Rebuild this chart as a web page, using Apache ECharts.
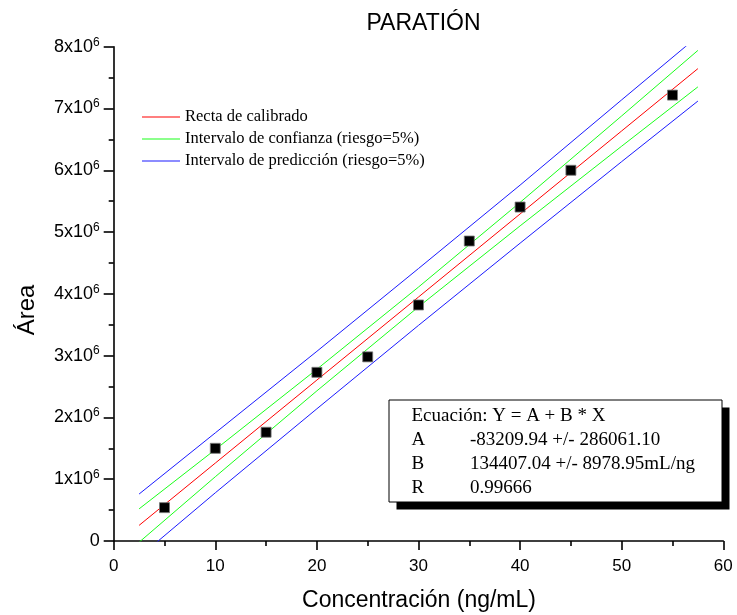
<!DOCTYPE html>
<html>
<head>
<meta charset="utf-8">
<script src="https://cdn.jsdelivr.net/npm/echarts@6/dist/echarts.min.js"></script>
<style>html,body{margin:0;padding:0;background:#fff;}#c{width:737px;height:615px;}</style>
</head>
<body>
<div id="c"></div>
<script>
// Data points (concentration ng/mL, area)
const concentrations = [5, 10, 15, 20, 25, 30, 35, 40, 45, 55];
const areas = [0.54e6, 1.50e6, 1.76e6, 2.73e6, 2.98e6, 3.82e6, 4.855e6, 5.405e6, 6.0e6, 7.217e6];

// Lines
const lineX = [2.5, 10, 20, 30, 40, 50, 57.5];
const fitLine = [0.253e6, 1.261e6, 2.605e6, 3.949e6, 5.293e6, 6.637e6, 7.645e6];
const confUpper = [0.52e6, 1.48e6, 2.78e6, 4.11e6, 5.48e6, 6.88e6, 7.94e6];
const confLower = [-0.02e6, 1.04e6, 2.43e6, 3.79e6, 5.10e6, 6.39e6, 7.35e6];
const predUpper = [0.76e6, 1.75e6, 3.07e6, 4.41e6, 5.76e6, 7.14e6, 8.17e6];
const predLower = [-0.26e6, 0.78e6, 2.14e6, 3.49e6, 4.82e6, 6.14e6, 7.12e6];

const legendNames = ['Recta de calibrado', 'Intervalo de confianza (riesgo=5%)', 'Intervalo de predicción (riesgo=5%)'];
const titleText = 'PARATIÓN';
const xName = 'Concentración (ng/mL)';
const yName = 'Área';
const boxLines = [
  ['Ecuación: Y = A + B * X', ''],
  ['A', '-83209.94 +/- 286061.10'],
  ['B', '134407.04 +/- 8978.95mL/ng'],
  ['R', '0.99666']
];

const pairs = (xs, ys) => xs.map((x, i) => [x, ys[i]]);
const sans = 'Liberation Sans, Arial, sans-serif';
const serif = 'Liberation Serif, Times New Roman, serif';

function lineSeries(name, ys, color) {
  return {
    name: name, type: 'line', data: pairs(lineX, ys), symbol: 'none', clip: true,
    lineStyle: {color: color, width: 1}, itemStyle: {color: color}, z: 2, silent: true
  };
}

const chart = echarts.init(document.getElementById('c'), null, {renderer: 'canvas'});

const boxX = 389, boxY = 400, boxW = 333, boxH = 102;
const boxChildren = [
  {type: 'rect', shape: {x: boxX + 7.5, y: boxY + 7.5, width: boxW, height: boxH}, style: {fill: '#000'}},
  {type: 'rect', shape: {x: boxX, y: boxY, width: boxW, height: boxH}, style: {fill: '#fff', stroke: '#000', lineWidth: 1}}
];
const lineYs = [416, 440, 464, 488];
boxLines.forEach((l, i) => {
  boxChildren.push({type: 'text', x: 411.5, y: lineYs[i], style: {text: l[0], font: '19px ' + serif, fill: '#000', verticalAlign: 'middle'}});
  if (l[1]) boxChildren.push({type: 'text', x: 470, y: lineYs[i], style: {text: l[1], font: '19px ' + serif, fill: '#000', verticalAlign: 'middle'}});
});

const option = {
  animation: false,
  backgroundColor: '#fff',
  grid: {left: 113.7, right: 13.7, top: 46.7, bottom: 74, containLabel: false},
  legend: {
    orient: 'vertical', left: 142, top: 108.5, padding: 0, itemWidth: 38, itemHeight: 1.2, itemGap: 5,
    icon: 'rect',
    data: legendNames,
    textStyle: {fontFamily: serif, fontSize: 16.5, color: '#000', lineHeight: 16.5},
    selectedMode: false
  },
  xAxis: {
    type: 'value', min: 0, max: 60, interval: 10,
    axisLine: {show: true, lineStyle: {color: '#000', width: 1.6}},
    axisTick: {show: true, inside: false, length: 9, lineStyle: {color: '#000', width: 1.6}},
    minorTick: {show: true, splitNumber: 2, length: 5, lineStyle: {color: '#000', width: 1.6}},
    axisLabel: {fontFamily: sans, fontSize: 17, color: '#000', margin: 17},
    splitLine: {show: false}
  },
  yAxis: {
    type: 'value', min: 0, max: 8e6, interval: 1e6,
    axisLine: {show: true, lineStyle: {color: '#000', width: 1.6}},
    axisTick: {show: true, inside: false, length: 10, lineStyle: {color: '#000', width: 1.6}},
    minorTick: {show: true, splitNumber: 2, length: 5, lineStyle: {color: '#000', width: 1.6}},
    axisLabel: {
      margin: 14,
      formatter: v => v === 0 ? '{a|0}' : '{a|' + (v / 1e6) + 'x10}{s|6}',
      rich: {
        a: {fontFamily: sans, fontSize: 18, color: '#000'},
        s: {fontFamily: sans, fontSize: 12, color: '#000', verticalAlign: 'top', padding: [0, 0, 9, 0]}
      }
    },
    splitLine: {show: false}
  },
  graphic: [
    {type: 'text', x: 423.5, y: 24, style: {text: titleText, font: '23px ' + sans, fill: '#000', align: 'center', verticalAlign: 'middle'}},
    {type: 'text', x: 419, y: 601, style: {text: xName, font: '23px ' + sans, fill: '#000', align: 'center', verticalAlign: 'middle'}},
    {type: 'text', x: 27, y: 310, rotation: Math.PI / 2, style: {text: yName, font: '24px ' + sans, fill: '#000', align: 'center', verticalAlign: 'middle'}},
    {type: 'group', children: boxChildren, z: 100}
  ],
  series: [
    lineSeries(legendNames[2], predUpper, '#1a1aff'),
    lineSeries(legendNames[2], predLower, '#1a1aff'),
    lineSeries(legendNames[1], confUpper, '#1aff1a'),
    lineSeries(legendNames[1], confLower, '#1aff1a'),
    lineSeries(legendNames[0], fitLine, '#ff0000'),
    {
      name: 'Datos', type: 'scatter', data: pairs(concentrations, areas), symbol: 'rect', symbolSize: 10,
      itemStyle: {color: '#000', borderColor: '#777', borderWidth: 0.8, opacity: 1}, z: 5
    }
  ]
};
chart.setOption(option);
</script>
</body>
</html>
